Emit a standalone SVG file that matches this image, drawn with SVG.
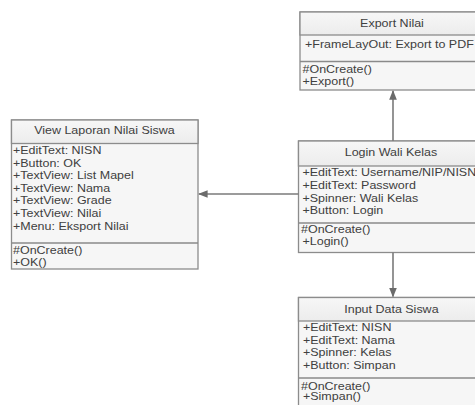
<svg xmlns="http://www.w3.org/2000/svg" width="475" height="405" viewBox="0 0 475 405">
  <defs>
    <marker id="arrow" viewBox="0 0 10 10" refX="9" refY="5" markerWidth="6" markerHeight="6" orient="auto-start-reverse">
      <path d="M0,1 L10,5 L0,9 z" fill="#6b6b6b"/>
    </marker>
    <linearGradient id="head" x1="0" y1="0" x2="0" y2="1">
      <stop offset="0" stop-color="#f7f7f7"/>
      <stop offset="1" stop-color="#ececec"/>
    </linearGradient>
  </defs>
  <style>
    .box { fill: #f6f6f6; stroke: #8c8c8c; stroke-width: 1.3; }
    .head { fill: url(#head); stroke: #8c8c8c; stroke-width: 1.3; }
    .sep { stroke: #8a8a8a; stroke-width: 1.4; }
    .conn { stroke: #7a7a7a; stroke-width: 1.6; fill: none; }
    text { font-family: "Liberation Sans", Arial, sans-serif; font-size: 10px; fill: #404040; }
    .t { text-anchor: middle; transform-box: fill-box; transform-origin: 50% 50%; transform: scaleX(1.25); }
    .a { transform-box: fill-box; transform-origin: 0 50%; transform: scaleX(1.25); }
  </style>

  <!-- Export Nilai -->
  <g id="export-nilai">
    <rect class="box" x="300" y="12" width="185" height="78"/>
    <rect class="head" x="300" y="12" width="185" height="23"/>
    <line class="sep" x1="300" y1="61.5" x2="485" y2="61.5"/>
    <text class="t" x="392" y="27.5">Export Nilai</text>
    <text class="a" x="305" y="48.5">+FrameLayOut: Export to PDF</text>
    <text class="a" x="302.5" y="73.5">#OnCreate()</text>
    <text class="a" x="302.5" y="85">+Export()</text>
  </g>

  <!-- View Laporan Nilai Siswa -->
  <g id="view-laporan">
    <rect class="box" x="11.5" y="120" width="186.5" height="149"/>
    <rect class="head" x="11.5" y="120" width="186.5" height="23.5"/>
    <line class="sep" x1="11.5" y1="243" x2="198" y2="243"/>
    <text class="t" x="104.5" y="134.5">View Laporan Nilai Siswa</text>
    <text class="a" x="13" y="154">+EditText: NISN</text>
    <text class="a" x="13" y="166.6">+Button: OK</text>
    <text class="a" x="13" y="179.2">+TextView: List Mapel</text>
    <text class="a" x="13" y="191.8">+TextView: Nama</text>
    <text class="a" x="13" y="204.4">+TextView: Grade</text>
    <text class="a" x="13" y="217">+TextView: Nilai</text>
    <text class="a" x="13" y="229.6">+Menu: Eksport Nilai</text>
    <text class="a" x="13" y="254.5">#OnCreate()</text>
    <text class="a" x="13" y="266.5">+OK()</text>
  </g>

  <!-- Login Wali Kelas -->
  <g id="login-wali-kelas">
    <rect class="box" x="298.5" y="141" width="186.5" height="111.5"/>
    <rect class="head" x="298.5" y="141" width="186.5" height="25"/>
    <line class="sep" x1="298.5" y1="223" x2="485" y2="223"/>
    <text class="t" x="391" y="156">Login Wali Kelas</text>
    <text class="a" x="302.5" y="176.2">+EditText: Username/NIP/NISN</text>
    <text class="a" x="302.5" y="189">+EditText: Password</text>
    <text class="a" x="302.5" y="201.6">+Spinner: Wali Kelas</text>
    <text class="a" x="302.5" y="214.4">+Button: Login</text>
    <text class="a" x="301" y="233.5">#OnCreate()</text>
    <text class="a" x="302.5" y="245">+Login()</text>
  </g>

  <!-- Input Data Siswa -->
  <g id="input-data-siswa">
    <rect class="box" x="298.5" y="297.5" width="186.5" height="115"/>
    <rect class="head" x="298.5" y="297.5" width="186.5" height="23.5"/>
    <line class="sep" x1="298.5" y1="378" x2="485" y2="378"/>
    <text class="t" x="391.5" y="313">Input Data Siswa</text>
    <text class="a" x="303" y="331.2">+EditText: NISN</text>
    <text class="a" x="303" y="344.2">+EditText: Nama</text>
    <text class="a" x="303" y="356.4">+Spinner: Kelas</text>
    <text class="a" x="303" y="369.4">+Button: Simpan</text>
    <text class="a" x="301" y="390">#OnCreate()</text>
    <text class="a" x="303" y="400.2">+Simpan()</text>
  </g>

  <!-- Connectors -->
  <g id="connectors">
    <line class="conn" x1="393" y1="141" x2="393" y2="91" marker-end="url(#arrow)"/>
    <line class="conn" x1="298.5" y1="194" x2="199" y2="194" marker-end="url(#arrow)"/>
    <line class="conn" x1="393" y1="252.5" x2="393" y2="296.5" marker-end="url(#arrow)"/>
  </g>
</svg>
